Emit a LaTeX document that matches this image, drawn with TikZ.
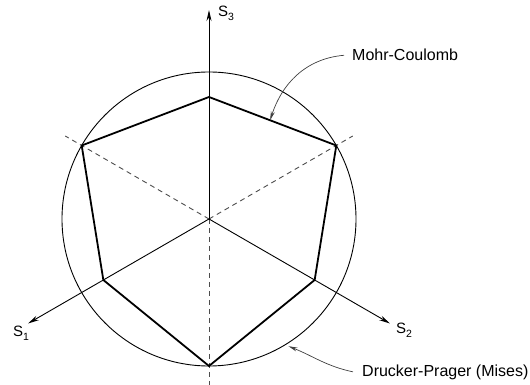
\documentclass[tikz,border=0pt]{standalone}
\usepackage{fontspec}
\setmainfont{Liberation Sans}
\usetikzlibrary{arrows.meta,calc}
\newcommand{\sublbl}[1]{S\raisebox{-4pt}{\fontsize{10.5}{12}\selectfont #1}}
\begin{document}
\begin{tikzpicture}[x=1pt,y=1pt,
  hexline/.style={line width=1.8pt, line join=miter},
  circline/.style={line width=0.9pt},
  axisline/.style={line width=0.9pt,-{Stealth[length=11pt,width=5pt]}},
  dashline/.style={line width=0.9pt, dash pattern=on 5pt off 4pt, black!70},
  leader/.style={line width=0.7pt, black!75, -{Stealth[length=9pt,width=4pt]}},
  lbl/.style={font=\fontsize{16}{19}\selectfont, inner sep=0pt, anchor=base west},
  axlbl/.style={font=\fontsize{15}{18}\selectfont, inner sep=0pt, anchor=base west}]
\useasboundingbox (0,0) rectangle (530,385);
\coordinate (O) at (209,166);
% hexagon vertices
\path (O) ++(90:122) coordinate (T);
\path (O) ++(30:147) coordinate (UR);
\path (O) ++(-30:122) coordinate (LR);
\path (O) ++(-90:147) coordinate (B);
\path (O) ++(210:122) coordinate (LL);
\path (O) ++(150:147) coordinate (UL);
% axes tips
\path (O) ++(90:209) coordinate (S3tip);
\path (O) ++(210:209) coordinate (S1tip);
\path (O) ++(-30:209) coordinate (S2tip);
% dashed ends
\path (O) ++(150:166) coordinate (D1);
\path (O) ++(30:166) coordinate (D2);
\coordinate (D3) at (209,0);
% circle
\draw[circline] (O) circle (147);
% dashed extensions
\draw[dashline] (O) -- (D1);
\draw[dashline] (O) -- (D2);
\draw[dashline] (O) -- (D3);
% axes
\draw[axisline] (O) -- (S3tip);
\draw[axisline] (O) -- (S1tip);
\draw[axisline] (O) -- (S2tip);
% hexagon
\draw[hexline] (T) -- (UR) -- (LR) -- (B) -- (LL) -- (UL) -- cycle;
% axis labels
\node[axlbl] (L3) at (218,368) {\sublbl{3}};
\node[axlbl] (L1) at (13,48) {\sublbl{1}};
\node[axlbl] (L2) at (396,51) {\sublbl{2}};
% leaders
\node[lbl] (MC) at (352,324) {Mohr-Coulomb};
\node[lbl] (DP) at (362,8) {Drucker-Prager (Mises)};
\coordinate (MCtip) at ($(T)!0.48!(UR)$);
\path (O) ++(-58:150) coordinate (DPtip);
\coordinate (MCs) at ($(MC.west)+(-8,0)$);
\coordinate (DPs) at ($(DP.west)+(-9,1)$);
\draw[leader] (MCs) to[out=185,in=72] (MCtip);
\draw[leader] (DPs) to[out=168,in=-22] (DPtip);
\end{tikzpicture}
\end{document}
